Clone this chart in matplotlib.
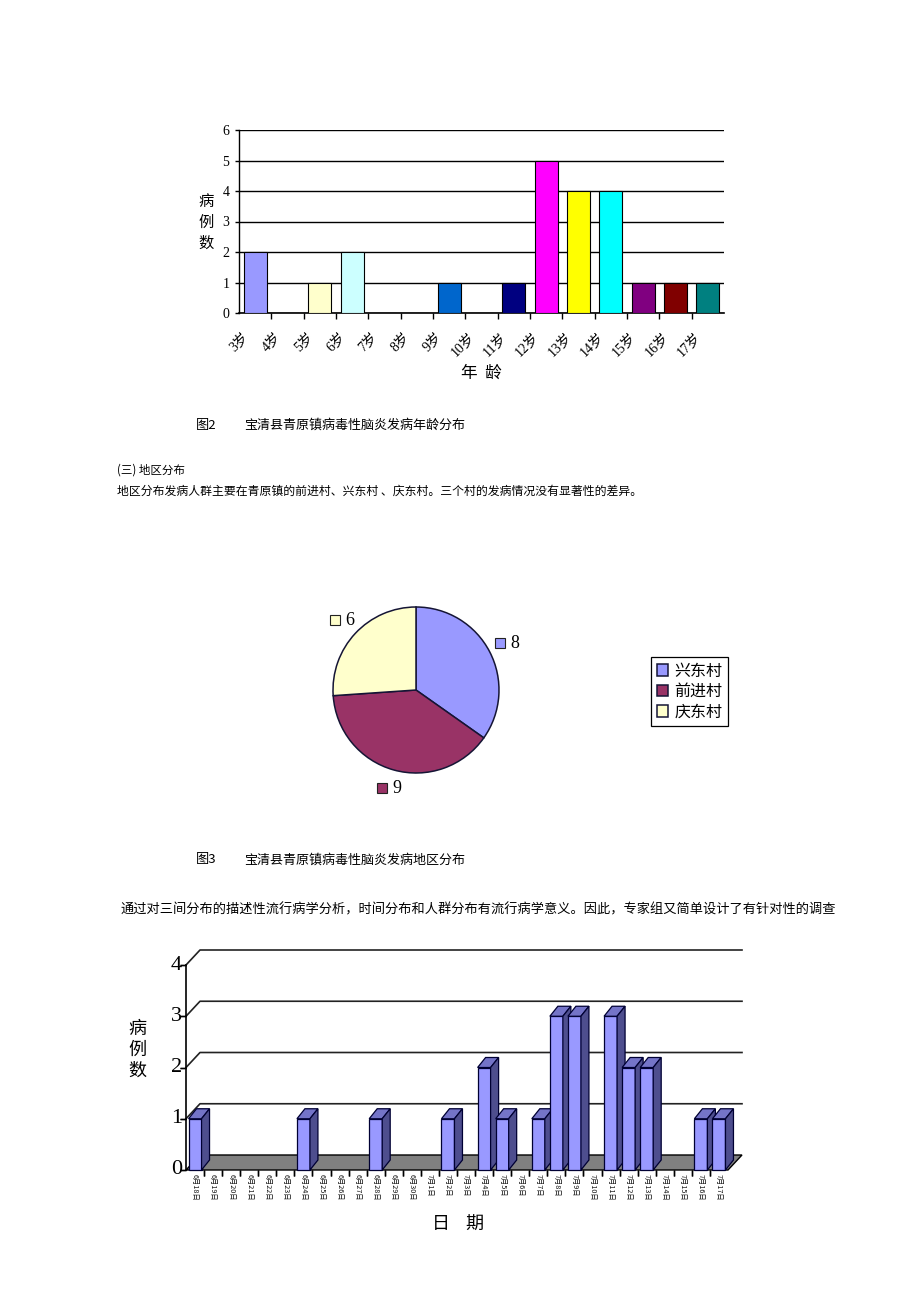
import matplotlib
matplotlib.use("Agg")
import matplotlib.pyplot as plt
from matplotlib.patches import Polygon, Rectangle
from matplotlib.transforms import offset_copy
import numpy as np

W, H = 920, 1302
CJK = ['Noto Sans CJK SC', 'DejaVu Sans']
SERIF = ['Liberation Serif', 'Noto Sans CJK SC']
plt.rcParams['font.family'] = CJK

# 图2 年龄分布
ages = ['3岁', '4岁', '5岁', '6岁', '7岁', '8岁', '9岁', '10岁', '11岁', '12岁',
        '13岁', '14岁', '15岁', '16岁', '17岁']
age_cases = [2, 0, 1, 2, 0, 0, 1, 0, 1, 5, 4, 4, 1, 1, 1]
age_colors = ['#9999FF', '#FFFFFF', '#FFFFCC', '#CCFFFF', '#FFFFFF', '#FFFFFF',
              '#0066CC', '#FFFFFF', '#000080', '#FF00FF', '#FFFF00', '#00FFFF',
              '#800080', '#800000', '#008080']

# 图3 地区分布
villages = ['兴东村', '前进村', '庆东村']
village_cases = [8, 9, 6]
village_colors = ['#9999FF', '#993366', '#FFFFCC']

# 时间分布
dates = ['6月18日', '6月19日', '6月20日', '6月21日', '6月22日', '6月23日', '6月24日',
         '6月25日', '6月26日', '6月27日', '6月28日', '6月29日', '6月30日', '7月1日',
         '7月2日', '7月3日', '7月4日', '7月5日', '7月6日', '7月7日', '7月8日', '7月9日',
         '7月10日', '7月11日', '7月12日', '7月13日', '7月14日', '7月15日', '7月16日',
         '7月17日']
date_cases = [1, 0, 0, 0, 0, 0, 1, 0, 0, 0, 1, 0, 0, 0, 1, 0, 2, 1, 0, 1, 3, 3, 0,
              3, 2, 2, 0, 0, 1, 1]

fig = plt.figure(figsize=(W / 100, H / 100), dpi=100)


def px_axes(x0, y0, x1, y1):
    return fig.add_axes([x0 / W, 1 - y1 / H, (x1 - x0) / W, (y1 - y0) / H])


def px_text(x, y, s, **kw):
    fig.text(x / W, 1 - y / H, s, **kw)


# ---------- 柱状图：年龄 ----------
ax1 = px_axes(239, 130, 724, 313)
xs = np.arange(len(ages))
ax1.bar(xs, age_cases, width=0.71, color=age_colors, edgecolor='black',
        linewidth=0.8, zorder=3)
ax1.set_xlim(-0.5, len(ages) - 0.5)
ax1.set_ylim(0, 6)
ax1.set_yticks(range(7))
ax1.set_yticklabels([str(i) for i in range(7)], family=SERIF, fontsize=10)
ax1.yaxis.grid(True, color='black', linewidth=1.0, zorder=0)
ax1.set_axisbelow(True)
for s in ['top', 'right']:
    ax1.spines[s].set_visible(False)
ax1.spines['left'].set_linewidth(1.0)
ax1.spines['bottom'].set_linewidth(1.2)
ax1.set_xticks(np.arange(1, len(ages)) - 0.5)
ax1.set_xticklabels([])
ax1.tick_params(axis='x', length=4, width=1, direction='out')
ax1.tick_params(axis='y', length=3, width=1, pad=4)
lab_tr = offset_copy(ax1.transData, fig=fig, x=-9, y=-22, units='dots')
for i, a in enumerate(ages):
    ax1.text(i, 0, a, transform=lab_tr, rotation=45, ha='right', va='center',
             rotation_mode='anchor', family=SERIF, fontsize=10)
px_text(206, 222, '病\n例\n数', ha='center', va='center', fontsize=11,
        linespacing=1.3)
px_text(481, 373, '年  龄', ha='center', va='center', fontsize=12)

px_text(196, 425, '图2', ha='left', va='center', fontsize=9.5)
px_text(244, 425, '宝清县青原镇病毒性脑炎发病年龄分布', ha='left', va='center', fontsize=9.4)
px_text(117, 470, '(三) 地区分布', ha='left', va='center', fontsize=8.3)
px_text(117, 491, '地区分布发病人群主要在青原镇的前进村、兴东村 、庆东村。三个村的发病情况没有显著性的差异。',
        ha='left', va='center', fontsize=8.55)

# ---------- 饼图：地区 ----------
R = 83.0
cx, cy = 416, 690
ax2 = px_axes(cx - 150, cy - 150, cx + 150, cy + 150)
wedges, _ = ax2.pie(village_cases, colors=village_colors, startangle=90,
                    counterclock=False, radius=1,
                    wedgeprops=dict(edgecolor='#151535', linewidth=1.1))
lim = 150 / R
ax2.set_xlim(-lim, lim)
ax2.set_ylim(-lim, lim)
ax2.set_aspect('equal')
ax2.axis('off')
total = sum(village_cases)
start = 90.0
for val, col in zip(village_cases, village_colors):
    span = val / total * 360
    mid = np.deg2rad(start - span / 2)
    start -= span
    bx, by = 1.23 * np.cos(mid), 1.23 * np.sin(mid)
    ax2.add_patch(Rectangle((bx - 11.5 / R, by - 5 / R), 10 / R, 10 / R,
                            facecolor=col, edgecolor='#222222', linewidth=0.8,
                            clip_on=False))
    ax2.text(bx + 4 / R, by, str(val), ha='left', va='center', family=SERIF,
             fontsize=13, clip_on=False)

fig.legend(wedges, villages, loc='upper left',
           bbox_to_anchor=(651 / W, 1 - 657 / H), fontsize=11.5,
           frameon=True, fancybox=False, edgecolor='black', framealpha=1,
           handlelength=0.7, handleheight=0.7, handletextpad=0.4,
           labelspacing=0.22, borderpad=0.35, borderaxespad=0)
fig.legends[0].get_frame().set_linewidth(0.9)

px_text(196, 860, '图3', ha='left', va='center', fontsize=9.5)
px_text(244, 860, '宝清县青原镇病毒性脑炎发病地区分布', ha='left', va='center', fontsize=9.4)
px_text(120, 910, '通过对三间分布的描述性流行病学分析，时间分布和人群分布有流行病学意义。因此，专家组又简单设计了有针对性的调查',
        ha='left', va='center', fontsize=9.5)

# ---------- 伪三维柱状图：日期 ----------
n = len(dates)
CW = (728 - 186) / n
UH = 51.25
x0p, x1p, ytop, ybot = 186, 746, 944, 1170
ax3 = px_axes(x0p, ytop, x1p, ybot)
ax3.set_xlim(0, (x1p - x0p) / CW)
ax3.set_ylim(0, (ybot - ytop) / UH)
ax3.axis('off')
DXF, DYF = 14 / CW, 15 / UH
DXB, DYB = 8 / CW, 10 / UH
BW = 13 / CW

for v in range(1, 5):
    ax3.plot([0, DXF, n + DXF], [v, v + DYF, v + DYF], color='#222222',
             linewidth=1.2, zorder=1, clip_on=False)
ax3.add_patch(Polygon([(0, 0), (n, 0), (n + DXF, DYF), (DXF, DYF)], closed=True,
                      facecolor='#808080', edgecolor='black', linewidth=1.0,
                      zorder=2, clip_on=False))
ax3.plot([0, 0], [0, 4], color='black', linewidth=1.2, zorder=2, clip_on=False)

for i, v in enumerate(date_cases):
    if v <= 0:
        continue
    l = i + 0.5 - BW / 2
    r = l + BW
    z = 3 + i * 0.01
    ax3.add_patch(Rectangle((l, 0), BW, v, facecolor='#9999FF', edgecolor='#000033',
                            linewidth=0.9, zorder=z, clip_on=False))
    ax3.add_patch(Polygon([(l, v), (r, v), (r + DXB, v + DYB), (l + DXB, v + DYB)],
                          closed=True, facecolor='#7474C8', edgecolor='#000033',
                          linewidth=0.9, zorder=z, clip_on=False))
    ax3.add_patch(Polygon([(r, 0), (r + DXB, DYB), (r + DXB, v + DYB), (r, v)],
                          closed=True, facecolor='#4E4E8E', edgecolor='#000033',
                          linewidth=0.9, zorder=z, clip_on=False))

tick_tr = offset_copy(ax3.transData, fig=fig, x=0, y=-3, units='dots')
for b in range(1, n):
    ax3.plot([b, b], [0, 0], color='black', linewidth=0.8, zorder=2,
             transform=tick_tr, marker='|', markersize=4, clip_on=False)
lab3_tr = offset_copy(ax3.transData, fig=fig, x=0, y=-4, units='dots')
for i, d in enumerate(dates):
    ax3.text(i + 0.5, 0, d, transform=lab3_tr, rotation=270, ha='center', va='top',
             fontsize=5.2, color='#111111')

ylab_tr = offset_copy(ax3.transData, fig=fig, x=-3, y=0, units='dots')
for v in range(5):
    ax3.plot([0, 0], [v, v], transform=ylab_tr, marker='_', markersize=5,
             color='black', clip_on=False)
    ax3.text(0, v, str(v), transform=offset_copy(ax3.transData, fig=fig, x=-4,
             y=0, units='dots'), ha='right', va='center', family=SERIF, fontsize=16)

px_text(137, 1050, '病\n例\n数', ha='center', va='center', fontsize=13,
        linespacing=1.2)
px_text(458, 1225, '日    期', ha='center', va='center', fontsize=13)

fig.savefig('out.png', dpi=100, facecolor='white')
